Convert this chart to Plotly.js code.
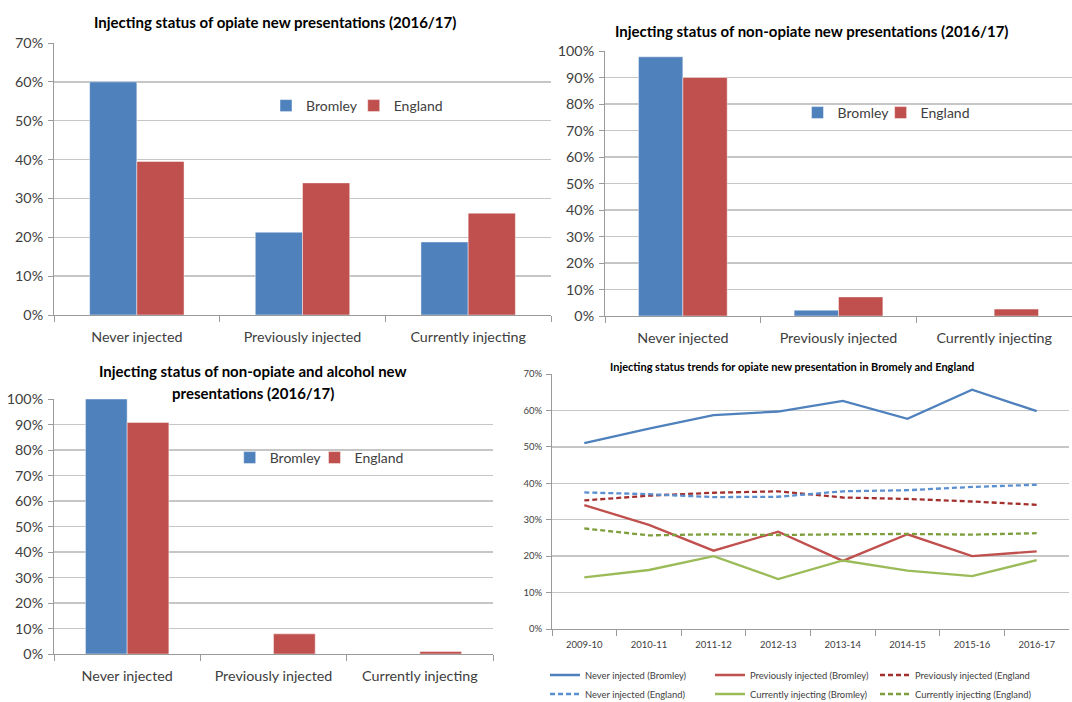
<!DOCTYPE html>
<html>
<head>
<meta charset="utf-8">
<script src="https://cdn.plot.ly/plotly-3.0.1.min.js"></script>
<style>
html,body{margin:0;padding:0;background:#fff;}
#chart{width:1072px;height:702px;}
</style>
</head>
<body>
<div id="chart"></div>
<script>
// ---- data ----
var categories = ['Never injected', 'Previously injected', 'Currently injecting'];
var seriesNames = ['Bromley', 'England'];

var opiateBromley = [60.0, 21.3, 18.8];
var opiateEngland = [39.5, 34.0, 26.2];

var nonOpiateBromley = [97.8, 2.2, 0];
var nonOpiateEngland = [90.0, 7.2, 2.6];

var alcoholBromley = [100, 0, 0];
var alcoholEngland = [90.8, 7.9, 1.0];

var years = ['2009-10', '2010-11', '2011-12', '2012-13', '2013-14', '2014-15', '2015-16', '2016-17'];
var neverBromley = [51.0, 55.0, 58.7, 59.7, 62.6, 57.7, 65.7, 59.8];
var previouslyBromley = [34.0, 28.6, 21.5, 26.7, 18.7, 26.0, 20.0, 21.3];
var previouslyEngland = [35.3, 36.6, 37.4, 37.8, 36.1, 35.7, 35.0, 34.1];
var neverEngland = [37.5, 37.0, 36.2, 36.3, 37.8, 38.1, 39.0, 39.6];
var currentlyBromley = [14.2, 16.2, 20.0, 13.7, 18.8, 16.0, 14.5, 18.9];
var currentlyEngland = [27.6, 25.7, 26.0, 25.8, 26.0, 26.1, 25.9, 26.3];

var lineNames = ['Never injected (Bromley)', 'Previously injected (Bromley)', 'Previously injected (England',
                 'Never injected (England)', 'Currently injecting (Bromley)', 'Currently injecting (England)'];

// ---- styles ----
var FONT = 'Lato, "Liberation Sans", Arial, sans-serif';
var TXT = '#404040';
var BLUE = '#4F81BD', RED = '#C0504D', GREEN = '#9BBB59';
var BLUE_D = '#5A8FD0', RED_D = '#A3302C', GREEN_D = '#7E9E3C';
var GRID = '#c6c6c6', AXIS = '#9a9a9a';
var W = 1072, H = 702;
function px(x) { return x / W; }
function py(y) { return 1 - y / H; }

function bar(x, y, name, color, xa, ya, legend) {
  return {
    type: 'bar', x: x, y: y, name: name, xaxis: xa, yaxis: ya, legend: legend,
    marker: {color: color, line: {color: 'rgba(255,255,255,0.45)', width: 1}},
    hoverinfo: 'x+y+name'
  };
}
function line(y, name, color, dash, legend) {
  return {
    type: 'scatter', mode: 'lines', x: years, y: y, name: name, xaxis: 'x4', yaxis: 'y4', legend: legend,
    line: {color: color, width: 2.3, dash: dash}
  };
}

var traces = [
  bar(categories, opiateBromley, seriesNames[0], BLUE, 'x', 'y', 'legend'),
  bar(categories, opiateEngland, seriesNames[1], RED, 'x', 'y', 'legend2'),
  bar(categories, nonOpiateBromley, seriesNames[0], BLUE, 'x2', 'y2', 'legend3'),
  bar(categories, nonOpiateEngland, seriesNames[1], RED, 'x2', 'y2', 'legend4'),
  bar(categories, alcoholBromley, seriesNames[0], BLUE, 'x3', 'y3', 'legend5'),
  bar(categories, alcoholEngland, seriesNames[1], RED, 'x3', 'y3', 'legend6'),
  line(neverBromley, lineNames[0], BLUE, 'solid', 'legend7'),
  line(previouslyBromley, lineNames[1], RED, 'solid', 'legend7'),
  line(previouslyEngland, lineNames[2], RED_D, '5px,3px', 'legend7'),
  line(neverEngland, lineNames[3], BLUE_D, '5px,3px', 'legend8'),
  line(currentlyBromley, lineNames[4], GREEN, 'solid', 'legend8'),
  line(currentlyEngland, lineNames[5], GREEN_D, '5px,3px', 'legend8')
];

function xAxis(domain, anchor, size, standoff, range) {
  var a = {
    domain: domain, anchor: anchor, type: 'category',
    showline: true, linecolor: AXIS, linewidth: 1,
    ticks: 'outside', tickson: 'boundaries', ticklen: 6, tickcolor: AXIS,
    ticklabelstandoff: standoff,
    showgrid: false, zeroline: false, fixedrange: true,
    tickfont: {family: FONT, size: size, color: TXT}
  };
  if (range) a.range = range;
  return a;
}
function yAxis(domain, anchor, range, size) {
  return {
    domain: domain, anchor: anchor, range: range, dtick: 10, ticksuffix: '%',
    showline: true, linecolor: AXIS, linewidth: 1,
    ticks: 'outside', ticklen: 5, tickcolor: AXIS, ticklabelstandoff: 2,
    showgrid: true, gridcolor: GRID, gridwidth: 1.5, zeroline: false, fixedrange: true,
    tickfont: {family: FONT, size: size, color: TXT}
  };
}
function legendBox(x, y, size, entrywidth) {
  var l = {
    x: x, y: y, xanchor: 'left', yanchor: 'middle', orientation: 'h',
    bgcolor: 'rgba(0,0,0,0)', borderwidth: 0, itemwidth: 30, tracegroupgap: 0,
    font: {family: FONT, size: size, color: TXT}, itemclick: false, itemdoubleclick: false
  };
  if (entrywidth) { l.entrywidth = entrywidth; l.entrywidthmode = 'pixels'; }
  return l;
}
function title(text, x, y, size) {
  return {
    text: text, xref: 'paper', yref: 'paper', x: px(x), y: py(y), xanchor: 'center', yanchor: 'middle',
    showarrow: false, font: {family: FONT, size: size, color: '#000'}
  };
}

var layout = {
  width: W, height: H,
  margin: {l: 0, r: 0, t: 0, b: 0, autoexpand: false},
  paper_bgcolor: '#fff', plot_bgcolor: '#fff',
  barmode: 'group', bargap: 0.43, bargroupgap: 0,
  showlegend: true,
  font: {family: FONT, color: TXT},
  xaxis: xAxis([px(54), px(551)], 'y', 14.3, 9),
  yaxis: yAxis([py(315), py(43)], 'x', [0, 70], 14.3),
  xaxis2: xAxis([px(605), 1], 'y2', 14.3, 9),
  yaxis2: yAxis([py(316), py(51)], 'x2', [0, 100], 14.3),
  xaxis3: xAxis([px(54), px(493)], 'y3', 14.3, 9),
  yaxis3: yAxis([py(654), py(399)], 'x3', [0, 100], 14.3),
  xaxis4: xAxis([px(552), px(1069)], 'y4', 9.5, 7, [-0.5, 7.5]),
  yaxis4: yAxis([py(629), py(374)], 'x4', [0, 70], 9.5),
  legend: legendBox(px(266), py(106), 14),
  legend2: legendBox(px(353.7), py(106), 14),
  legend3: legendBox(px(797.5), py(113), 14),
  legend4: legendBox(px(880.6), py(113), 14),
  legend5: legendBox(px(229.7), py(458), 14),
  legend6: legendBox(px(314.5), py(458), 14),
  legend7: legendBox(px(545), py(675), 9.4, 120),
  legend8: legendBox(px(545), py(694), 9.4, 120),
  annotations: [
    title('<b>Injecting status of opiate new presentations (2016/17)</b>', 275, 22, 15),
    title('<b>Injecting status of non-opiate new presentations (2016/17)</b>', 812, 31, 15),
    title('<b>Injecting status of non-opiate and alcohol new</b>', 253, 371, 15),
    title('<b>presentations (2016/17)</b>', 253, 393, 15),
    title('<b>Injecting status trends for opiate new presentation in Bromely and England</b>', 792, 367, 11)
  ]
};

Plotly.newPlot('chart', traces, layout, {displayModeBar: false, staticPlot: true});
</script>
</body>
</html>
